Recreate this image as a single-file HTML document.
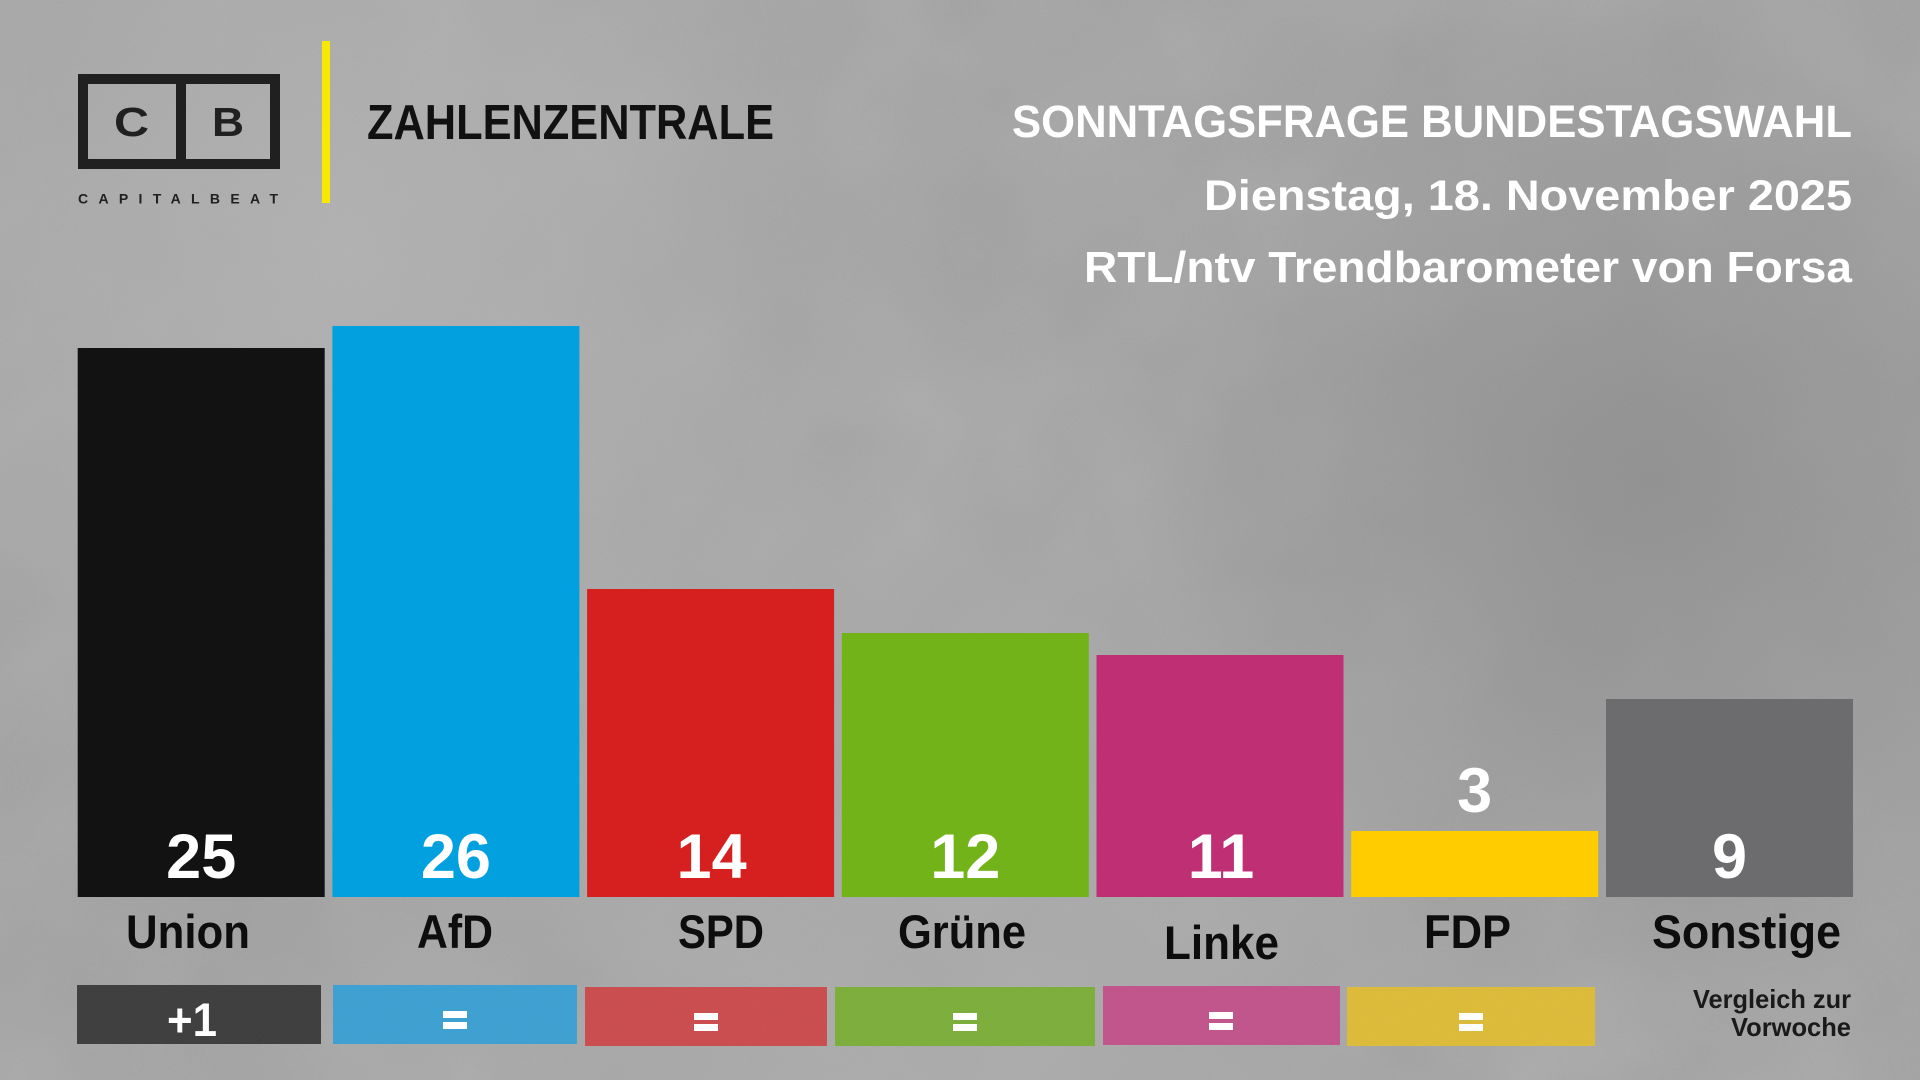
<!DOCTYPE html>
<html>
<head>
<meta charset="utf-8">
<style>
html,body{margin:0;padding:0;width:1920px;height:1080px;overflow:hidden;background:#a3a3a3;}
svg{display:block;}
text{font-family:"Liberation Sans","DejaVu Sans",sans-serif;font-weight:bold;}
</style>
</head>
<body>
<svg width="1920" height="1080" viewBox="0 0 1920 1080" xmlns="http://www.w3.org/2000/svg">
<defs>
  <radialGradient id="g1" cx="1650" cy="480" r="520" gradientUnits="userSpaceOnUse">
    <stop offset="0" stop-color="#8c8c8c" stop-opacity="0.85"/>
    <stop offset="1" stop-color="#8c8c8c" stop-opacity="0"/>
  </radialGradient>
  <radialGradient id="g2" cx="350" cy="250" r="600" gradientUnits="userSpaceOnUse">
    <stop offset="0" stop-color="#b4b4b4" stop-opacity="0.8"/>
    <stop offset="1" stop-color="#b4b4b4" stop-opacity="0"/>
  </radialGradient>
  <radialGradient id="g3" cx="900" cy="1000" r="700" gradientUnits="userSpaceOnUse">
    <stop offset="0" stop-color="#aeaeae" stop-opacity="0.7"/>
    <stop offset="1" stop-color="#aeaeae" stop-opacity="0"/>
  </radialGradient>
  <filter id="fine" x="0" y="0" width="100%" height="100%">
    <feTurbulence type="fractalNoise" baseFrequency="0.9" numOctaves="2" seed="4"/>
    <feColorMatrix type="saturate" values="0"/>
  </filter>
  <filter id="cloud" x="0" y="0" width="100%" height="100%">
    <feTurbulence type="fractalNoise" baseFrequency="0.006" numOctaves="3" seed="9"/>
    <feColorMatrix type="saturate" values="0"/>
  </filter>
</defs>

<!-- background concrete -->
<rect x="0" y="0" width="1920" height="1080" fill="#a2a2a2"/>
<rect x="0" y="0" width="1920" height="1080" filter="url(#cloud)" opacity="0.18"/>
<rect x="0" y="0" width="1920" height="1080" fill="url(#g2)"/>
<rect x="0" y="0" width="1920" height="1080" fill="url(#g3)"/>
<rect x="0" y="0" width="1920" height="1080" fill="url(#g1)"/>
<rect x="0" y="0" width="1920" height="1080" filter="url(#fine)" opacity="0.12"/>

<!-- logo -->
<g fill="#202020">
  <rect x="78" y="74" width="202" height="10"/>
  <rect x="78" y="159" width="202" height="10"/>
  <rect x="78" y="74" width="10" height="95"/>
  <rect x="270" y="74" width="10" height="95"/>
  <rect x="176" y="74" width="10" height="95"/>
</g>
<text x="114" y="136" font-size="41" fill="#202020" textLength="35" lengthAdjust="spacingAndGlyphs">C</text>
<text x="212" y="136" font-size="41" fill="#202020" textLength="32" lengthAdjust="spacingAndGlyphs">B</text>
<text x="78" y="203.5" font-size="14" fill="#202020" textLength="200" lengthAdjust="spacing">CAPITALBEAT</text>

<rect x="322" y="41" width="8" height="162" fill="#f7ea00"/>

<text x="367" y="139" font-size="49" fill="#111111" textLength="407" lengthAdjust="spacingAndGlyphs">ZAHLENZENTRALE</text>

<!-- titles -->
<text x="1012" y="137" font-size="45" fill="#ffffff" textLength="840" lengthAdjust="spacingAndGlyphs">SONNTAGSFRAGE BUNDESTAGSWAHL</text>
<text x="1204" y="210" font-size="43" fill="#ffffff" textLength="648" lengthAdjust="spacingAndGlyphs">Dienstag, 18. November 2025</text>
<text x="1084" y="282" font-size="44" fill="#ffffff" textLength="768" lengthAdjust="spacingAndGlyphs">RTL/ntv Trendbarometer von Forsa</text>

<!-- bars -->
<rect x="77.7" y="348" width="247" height="549" fill="#121212"/>
<rect x="332.4" y="326" width="247" height="571" fill="#03a0e0"/>
<rect x="587.1" y="589" width="247" height="308" fill="#d61f1f"/>
<rect x="841.8" y="633" width="247" height="264" fill="#72b31a"/>
<rect x="1096.5" y="655" width="247" height="242" fill="#bf2f74"/>
<rect x="1351.2" y="831" width="247" height="66" fill="#ffcc00"/>
<rect x="1606" y="699" width="247" height="198" fill="#6c6c6e"/>

<!-- values -->
<g font-size="63" fill="#ffffff" text-anchor="middle">
  <text x="201.2" y="878">25</text>
  <text x="455.9" y="878">26</text>
  <text x="711.6" y="878">14</text>
  <text x="965.3" y="878">12</text>
  <text x="1221" y="878">11</text>
  <text x="1474.7" y="812">3</text>
  <text x="1729.5" y="878">9</text>
</g>

<!-- labels -->
<g font-size="47" fill="#0d0d0d">
  <text x="126" y="948" textLength="124" lengthAdjust="spacingAndGlyphs">Union</text>
  <text x="417" y="948" textLength="76" lengthAdjust="spacingAndGlyphs">AfD</text>
  <text x="678" y="948" textLength="86" lengthAdjust="spacingAndGlyphs">SPD</text>
  <text x="898" y="948" textLength="128" lengthAdjust="spacingAndGlyphs">Grüne</text>
  <text x="1164" y="959" textLength="115" lengthAdjust="spacingAndGlyphs">Linke</text>
  <text x="1424" y="948" textLength="87" lengthAdjust="spacingAndGlyphs">FDP</text>
  <text x="1652" y="948" textLength="189" lengthAdjust="spacingAndGlyphs">Sonstige</text>
</g>

<!-- change boxes -->
<rect x="77" y="985" width="244" height="59" fill="#3b3b3b"/>
<rect x="333" y="985" width="244" height="59" fill="#3aa0d2"/>
<rect x="585" y="987" width="242" height="59" fill="#cb4a4c"/>
<rect x="835" y="987" width="260" height="59" fill="#7bae38"/>
<rect x="1103" y="986" width="237" height="59" fill="#c1528a"/>
<rect x="1347" y="987" width="248" height="59" fill="#debb36"/>
<rect x="77" y="985" width="1518" height="61" filter="url(#fine)" opacity="0.08"/>

<text x="167" y="1036" font-size="47" fill="#ffffff" textLength="50" lengthAdjust="spacingAndGlyphs">+1</text>
<g fill="#ffffff">
  <rect x="443" y="1011" width="24" height="7"/><rect x="443" y="1022" width="24" height="7"/>
  <rect x="694" y="1013" width="24" height="7"/><rect x="694" y="1024" width="24" height="7"/>
  <rect x="953" y="1013" width="24" height="7"/><rect x="953" y="1024" width="24" height="7"/>
  <rect x="1209" y="1012" width="24" height="7"/><rect x="1209" y="1023" width="24" height="7"/>
  <rect x="1459" y="1013" width="24" height="7"/><rect x="1459" y="1024" width="24" height="7"/>
</g>

<text x="1693" y="1008" font-size="26" fill="#1a1a1a" textLength="158" lengthAdjust="spacingAndGlyphs">Vergleich zur</text>
<text x="1731" y="1036" font-size="26" fill="#1a1a1a" textLength="120" lengthAdjust="spacingAndGlyphs">Vorwoche</text>
</svg>
</body>
</html>
